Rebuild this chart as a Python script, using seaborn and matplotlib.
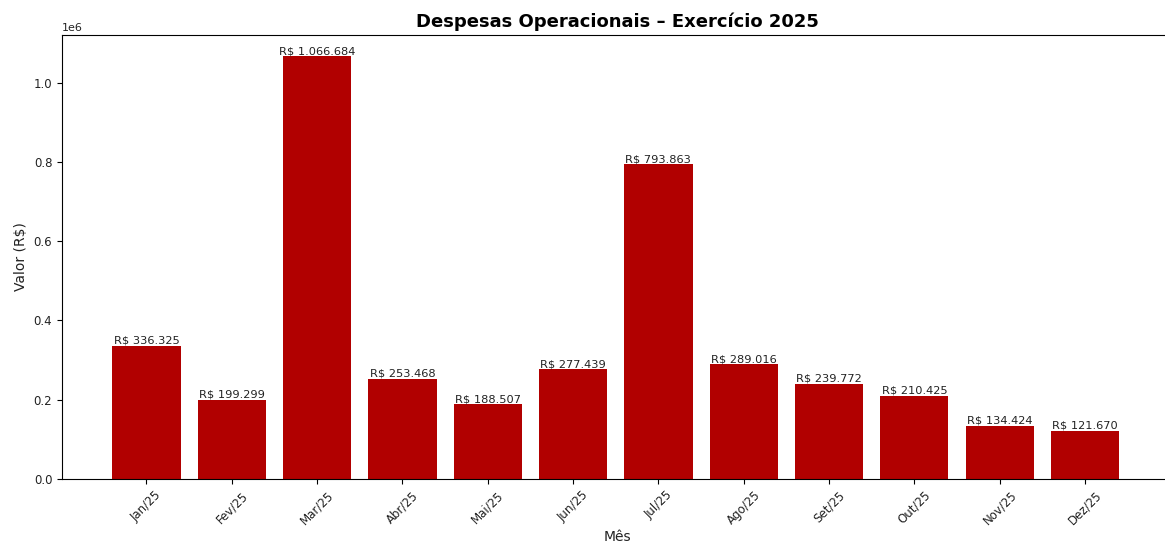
import pandas as pd
import seaborn as sns
import matplotlib.pyplot as plt

meses = ['Jan/25', 'Fev/25', 'Mar/25', 'Abr/25', 'Mai/25', 'Jun/25',
         'Jul/25', 'Ago/25', 'Set/25', 'Out/25', 'Nov/25', 'Dez/25']
valores = [336325, 199299, 1066684, 253468, 188507, 277439,
           793863, 289016, 239772, 210425, 134424, 121670]

df = pd.DataFrame({'Mes': meses, 'Valor': valores})

fig = plt.figure(figsize=(11.65, 5.45), dpi=100)
ax = fig.add_axes([62 / 1165, 66 / 545, 1110 / 1165, 444 / 545])

sns.barplot(data=df, x='Mes', y='Valor', color='#b10000', saturation=1,
            width=0.8, ax=ax)

for i, v in enumerate(valores):
    txt = 'R$ ' + f'{v:,}'.replace(',', '.')
    ax.text(i, v, txt, ha='center', va='bottom', fontsize=8.2, color='#222222')

ax.set_xlim(-0.99, 12.02)
ax.set_ylim(0, max(valores) * 1.05)
ax.set_title('Despesas Operacionais – Exercício 2025', fontsize=13, fontweight='bold')
ax.set_xlabel('Mês', fontsize=10, labelpad=2, color='#222222')
ax.set_ylabel('Valor (R$)', fontsize=10, color='#222222')
ax.tick_params(axis='both', labelsize=8.5, labelcolor='#222222')
plt.setp(ax.get_xticklabels(), rotation=45)
ax.yaxis.get_offset_text().set_fontsize(8)

fig.savefig('out.png', dpi=100)
